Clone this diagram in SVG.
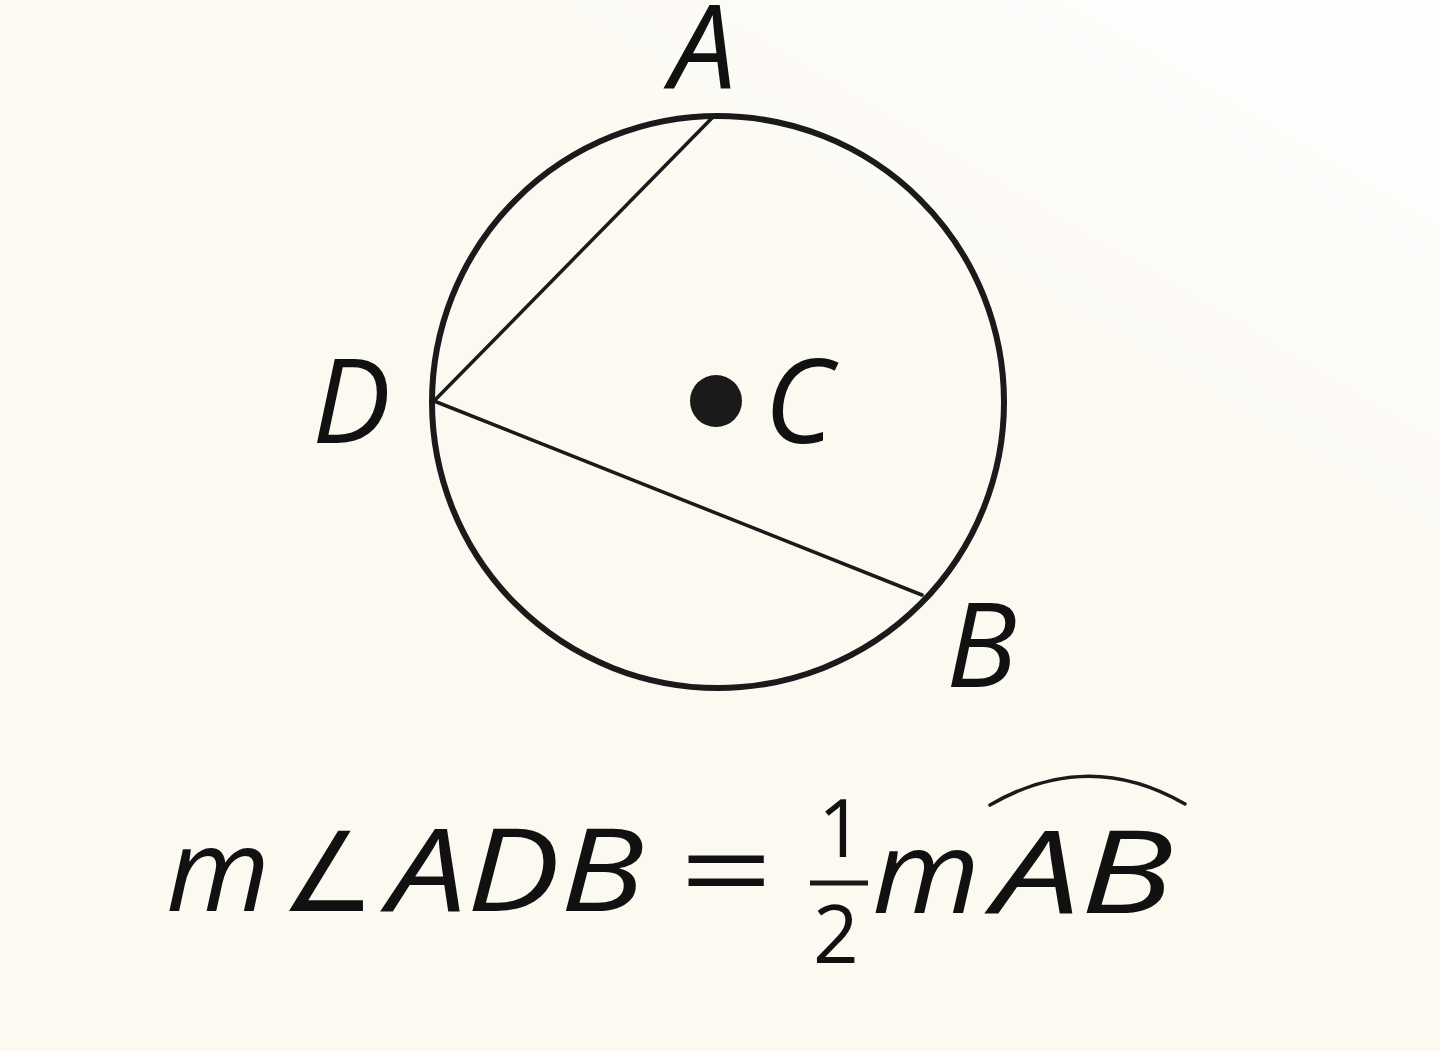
<svg xmlns="http://www.w3.org/2000/svg" width="1440" height="1051" viewBox="0 0 1440 1051">
<defs>
<linearGradient id="bg" x1="0.35" y1="0.6" x2="0.8" y2="0.05">
<stop offset="0" stop-color="#fcf9f0"/>
<stop offset="0.55" stop-color="#fcf9f1"/>
<stop offset="1" stop-color="#fefdfb"/>
</linearGradient>
<style>
.lbl{font-family:"Open Sans","Noto Sans","DejaVu Sans",sans-serif;font-style:italic;font-size:118px;fill:#111;}
.eq{font-family:"Open Sans","Noto Sans","DejaVu Sans",sans-serif;font-style:italic;font-size:116px;fill:#111;}
.ang{font-family:"DejaVu Sans",sans-serif;font-style:normal;font-weight:200;font-size:110px;fill:#111;}
.num{font-family:"Open Sans","Noto Sans","DejaVu Sans",sans-serif;font-size:80px;fill:#111;}
.ln{stroke:#1a1a1a;fill:none;stroke-linecap:round;}
</style>
</defs>
<rect width="1440" height="1051" fill="url(#bg)"/>
<g id="circle">
<circle cx="718" cy="402" r="286" class="ln" stroke-width="6"/>
</g>
<g id="connectors">
<line x1="434" y1="401" x2="712" y2="118" class="ln" stroke-width="3.5"/>
<line x1="434" y1="401" x2="922" y2="595" class="ln" stroke-width="3.5"/>
</g>
<g id="center-C">
<circle cx="716" cy="401" r="26" fill="#1a1a1a"/>
<text class="lbl" x="764" y="443">C</text>
</g>
<g id="point-A"><text class="lbl" x="670" y="89" font-size="114">A</text></g>
<g id="point-D"><text class="lbl" x="312" y="443">D</text></g>
<g id="point-B"><text class="lbl" x="946" y="687">B</text></g>
<g id="equation">
<text class="eq" x="166" y="911" textLength="104" lengthAdjust="spacingAndGlyphs">m</text>
<text class="ang" x="280" y="911" textLength="95" lengthAdjust="spacingAndGlyphs">∠</text>
<text class="eq" x="388" y="911" textLength="256" lengthAdjust="spacingAndGlyphs">ADB</text>
<text class="eq" x="676" y="911" textLength="94" lengthAdjust="spacingAndGlyphs">=</text>
<text class="num" x="818" y="857">1</text>
<line x1="810" y1="883" x2="868" y2="883" stroke="#1a1a1a" stroke-width="5"/>
<text class="num" x="813" y="963">2</text>
<text class="eq" x="872" y="913" textLength="108" lengthAdjust="spacingAndGlyphs">m</text>
<text class="eq" x="993" y="913" textLength="180" lengthAdjust="spacingAndGlyphs">AB</text>
<path d="M990 805 Q1088 748 1185 804" class="ln" stroke-width="3.5"/>
</g>
</svg>
